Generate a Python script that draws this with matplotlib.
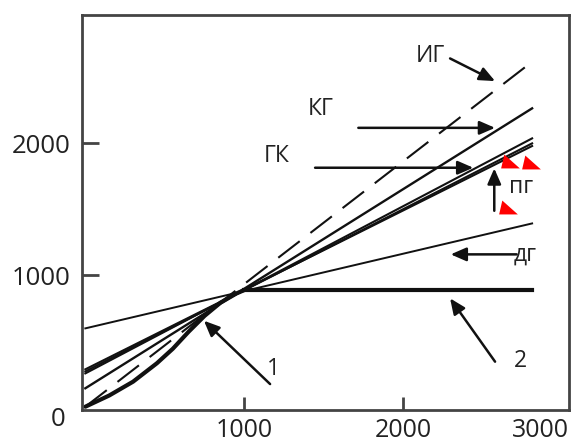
import numpy as np
import matplotlib
matplotlib.use('Agg')
import matplotlib.pyplot as plt
from matplotlib.path import Path

plt.rcParams['font.family'] = ['Open Sans', 'DejaVu Sans']

# straight lines: value at x = 0 and at the right end
x_ends = [0, 2810]
ig_line = [0, 2620]        # dashed
kg_line = [140, 2266]
gk_line = [253, 2038]
pg_line1 = [284, 1980]
pg_line2 = [268, 2000]
dg_line = [595, 1392]

# curve 1 and horizontal line 2
curve1_x = [0, 150, 300, 450, 550, 650, 750, 850, 950, 1000]
curve1_y = [0, 85, 190, 330, 440, 570, 690, 790, 860, 886]
line2_x = [1000, 2810]
line2_y = [886, 886]

# text labels (x, y, text)
labels = [(2168, 2620, 'ИГ'), (1481, 2215, 'КГ'), (1206, 1860, 'ГК'),
          (2742, 1620, 'пг'), (2765, 1113, 'дг'), (1182, 240, '1'), (2739, 304, '2')]

# arrows: (tail, tip)
arrows = [((2294, 2645), (2577, 2473)),
          ((1717, 2118), (2577, 2118)),
          ((1445, 1815), (2440, 1815)),
          ((2572, 1488), (2572, 1810)),
          ((2713, 1157), (2298, 1157)),
          ((1162, 172), (746, 653)),
          ((2577, 342), (2294, 823))]

# red triangles
tri_x = [2671, 2801, 2660]
tri_y = [1866, 1856, 1519]

xtick_pos = [1000, 2000, 2860]
xtick_lab = ['1000', '2000', '3000']
ytick_pos = [1000, 2000]
ytick_lab = ['1000', '2000']

fig = plt.figure(figsize=(5.74, 4.43), dpi=100)
ax = fig.add_axes([82 / 574, 33 / 443, 487 / 574, 395 / 443])

c = '#111111'
ax.plot(x_ends, ig_line, color=c, lw=1.5, dashes=(13, 6.5))
ax.plot(x_ends, kg_line, color=c, lw=1.7)
ax.plot(x_ends, gk_line, color=c, lw=1.5)
ax.plot(x_ends, pg_line1, color=c, lw=1.5)
ax.plot(x_ends, pg_line2, color=c, lw=1.5)
ax.plot(x_ends, dg_line, color=c, lw=1.4)
ax.plot(curve1_x, curve1_y, color=c, lw=3, solid_capstyle='round')
ax.plot(line2_x, line2_y, color=c, lw=3)

for (tail, tip) in arrows:
    ax.annotate('', xy=tip, xytext=tail,
                arrowprops=dict(arrowstyle='-|>,head_length=0.55,head_width=0.24',
                                mutation_scale=17, lw=1.8, color=c,
                                shrinkA=0, shrinkB=0))

for x, y, t in labels:
    ax.text(x, y, t, fontsize=16.5, color='#222222', ha='center', va='baseline')

tri = Path([(-0.5, -0.37), (0.5, -0.37), (-0.33, 0.37), (-0.5, -0.37)],
           [Path.MOVETO, Path.LINETO, Path.LINETO, Path.CLOSEPOLY])
ax.plot(tri_x, tri_y, linestyle='none', marker=tri, markersize=13.5,
        color='#ff0000', markeredgewidth=0)

ax.set_xlim(-21, 3042)
ax.set_ylim(-25, 2975)

ax.set_xticks(xtick_pos, xtick_lab)
ax.set_yticks(ytick_pos, ytick_lab)
ax.xaxis.get_major_ticks()[2].tick1line.set_visible(False)
ax.tick_params(axis='x', direction='in', length=9.5, width=2, color='#444444',
               pad=6, labelsize=18, labelcolor='#222222')
ax.tick_params(axis='y', direction='in', length=12, width=2, color='#444444',
               pad=8.5, labelsize=18.5, labelcolor='#222222')
ax.text(-0.049, -95, '0', transform=ax.get_yaxis_transform(), fontsize=18.5,
        color='#222222', ha='center', va='center')

for s in ax.spines.values():
    s.set_linewidth(2)
    s.set_color('#444444')

fig.savefig('out.png', dpi=100)
